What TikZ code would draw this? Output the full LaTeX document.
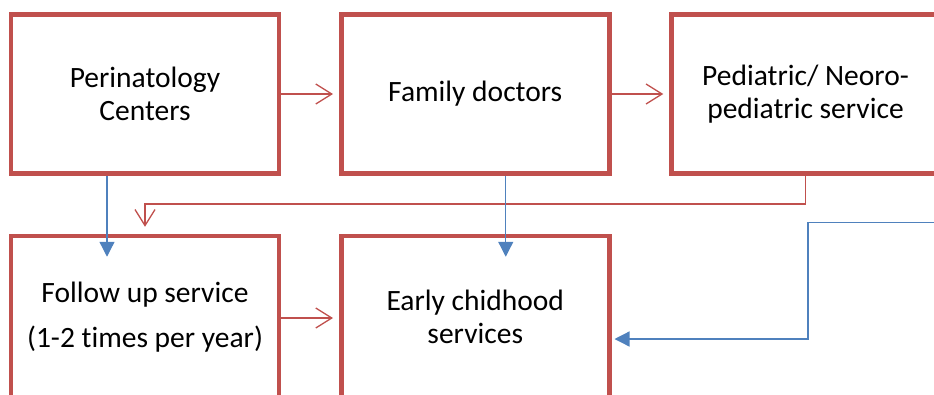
\documentclass[tikz,border=0pt]{standalone}
\usepackage{fontspec}
\setmainfont[Ligatures=NoCommon]{Carlito}
\usetikzlibrary{arrows.meta, positioning}
\definecolor{boxred}{RGB}{192,80,77}
\definecolor{lineblue}{RGB}{79,129,189}

\begin{document}
\begin{tikzpicture}[
            x=1pt, y=-1pt,
            font=\fontsize{29.5}{33}\selectfont,
            box/.style={rectangle, draw=boxred, line width=4.5pt, align=center, minimum width=268pt, minimum height=159pt, inner sep=0pt},
            redarr/.style={-{Straight Barb[length=16pt, width=20pt]}, line width=1.3pt, boxred, shorten >=6pt},
            bluearr/.style={-{Triangle[length=15pt, width=15pt]}, line width=1.3pt, lineblue}
        ]
            \useasboundingbox (0,0) rectangle (934,394);
            \clip (0,0) rectangle (934,394);
            \node[box] (peri) at (145,94) {Perinatology\\Centers};
            \node[box] (family) at (475.25,94) {Family doctors};
            \node[box] (pedi) at (805.5,94) {Pediatric/ Neoro-\\pediatric service};
            \node[box, minimum height=162pt] (follow) at (145,317) {Follow up service\\[12pt](1-2 times per year)};
            \node[box, minimum height=162pt] (early) at (475.25,317) {Early chidhood\\services};
            \coordinate (redlane) at (0,204);
            \coordinate (outside) at (940,222.7);
            \coordinate (bluelane) at (808,222.7);
            \draw[redarr] (peri) -- (family);
            \draw[redarr] (family) -- (pedi);
            \draw[redarr] ([yshift=-1pt]follow.east) -- ([yshift=-1pt]early.west);
            \draw[redarr, shorten >=7pt] (pedi.south) -- (pedi.south |- redlane) -| (follow.north);
            \draw[bluearr] ([xshift=-38pt]peri.south) -- ([xshift=-38pt, yshift=-23pt]follow.north);
            \draw[bluearr] ([xshift=30.5pt]family.south) -- ([xshift=30.5pt, yshift=-23pt]early.north);
            \draw[bluearr, shorten >=3pt] (outside) -- (bluelane) |- ([yshift=-22pt]early.east);
        \end{tikzpicture}
\end{document}
